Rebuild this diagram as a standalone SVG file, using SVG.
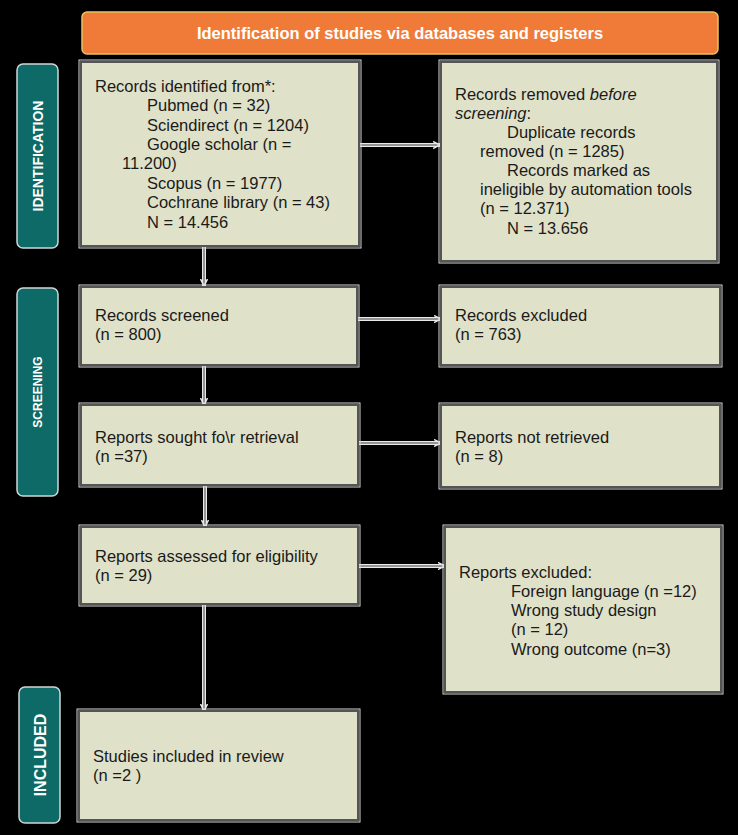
<svg xmlns="http://www.w3.org/2000/svg" width="738" height="835" viewBox="0 0 738 835">
<style>
.bg{fill:#000}
.box{fill:#e0e1c9;stroke:#555;stroke-width:2}
.box-o{fill:none;stroke:#d8d8d8;stroke-width:1}
.side{fill:#0e6a66;stroke:#d0d6d6;stroke-width:1.5}
.side-t{font-family:"Liberation Sans",Arial,sans-serif;font-weight:bold;fill:#fff;text-anchor:middle}
.t{font-family:"Liberation Sans",Arial,sans-serif;font-size:16.5px;fill:#1a1a1a}
.hdr{fill:#f07b38;stroke:#e8c25c;stroke-width:1.5}
.hdr-t{font-family:"Liberation Sans",Arial,sans-serif;font-weight:bold;font-size:16.5px;fill:#fff;text-anchor:middle}
.cw{stroke:#e8e8e8;stroke-width:4;fill:none}
.cg{stroke:#777;stroke-width:1.5;fill:none}
</style>
<defs>
<marker id="ah" markerWidth="8" markerHeight="8" refX="7" refY="4" orient="auto" markerUnits="userSpaceOnUse">
<path d="M0,0.5 L7,4 L0,7.5" fill="none" stroke="#e8e8e8" stroke-width="1.5"/>
</marker>
</defs>
<rect class="bg" x="0" y="0" width="738" height="835"/>

<g id="header">
<rect class="hdr" x="82" y="12" width="636" height="42" rx="5"/>
<text class="hdr-t" x="400" y="39">Identification of studies via databases and registers</text>
</g>

<g id="label-identification">
<rect class="side" x="17" y="64" width="41" height="184" rx="6"/>
<text class="side-t" font-size="14" transform="translate(43,156) rotate(-90)">IDENTIFICATION</text>
</g>
<g id="label-screening">
<rect class="side" x="17" y="288" width="41" height="208" rx="6"/>
<text class="side-t" font-size="12" transform="translate(42,392) rotate(-90)">SCREENING</text>
</g>
<g id="label-included">
<rect class="side" x="19" y="687" width="41" height="136" rx="6"/>
<text class="side-t" font-size="16" transform="translate(45.5,755) rotate(-90)">INCLUDED</text>
</g>

<g id="connectors">
<line class="cw" x1="360" y1="145" x2="440" y2="145"/>
<line class="cg" x1="360" y1="145" x2="440" y2="145" marker-end="url(#ah)"/>
<line class="cw" x1="358" y1="319" x2="441" y2="319"/>
<line class="cg" x1="358" y1="319" x2="441" y2="319" marker-end="url(#ah)"/>
<line class="cw" x1="358" y1="443" x2="441" y2="443"/>
<line class="cg" x1="358" y1="443" x2="441" y2="443" marker-end="url(#ah)"/>
<line class="cw" x1="358" y1="566" x2="445" y2="566"/>
<line class="cg" x1="358" y1="566" x2="445" y2="566" marker-end="url(#ah)"/>
<line class="cw" x1="204" y1="247" x2="204" y2="286"/>
<line class="cg" x1="204" y1="247" x2="204" y2="286" marker-end="url(#ah)"/>
<line class="cw" x1="204" y1="366" x2="204" y2="405"/>
<line class="cg" x1="204" y1="366" x2="204" y2="405" marker-end="url(#ah)"/>
<line class="cw" x1="205" y1="486" x2="205" y2="527"/>
<line class="cg" x1="205" y1="486" x2="205" y2="527" marker-end="url(#ah)"/>
<line class="cw" x1="204" y1="605" x2="204" y2="711"/>
<line class="cg" x1="204" y1="605" x2="204" y2="711" marker-end="url(#ah)"/>
</g>

<g id="records-identified">
<rect class="box-o" x="79" y="60" width="282" height="188"/>
<rect class="box" x="81" y="62" width="278" height="184"/>
<text class="t" x="95" y="92">Records identified from*:</text>
<text class="t" x="147" y="111">Pubmed  (n = 32)</text>
<text class="t" x="147" y="131">Sciendirect (n = 1204)</text>
<text class="t" x="147" y="150">Google scholar (n =</text>
<text class="t" x="122" y="169">11.200)</text>
<text class="t" x="147" y="189">Scopus (n = 1977)</text>
<text class="t" x="147" y="208">Cochrane library (n = 43)</text>
<text class="t" x="147" y="228">N = 14.456</text>
</g>

<g id="records-removed">
<rect class="box-o" x="439" y="60" width="280" height="203"/>
<rect class="box" x="441" y="62" width="276" height="199"/>
<text class="t" x="455" y="100">Records removed <tspan font-style="italic">before</tspan></text>
<text class="t" x="455" y="119"><tspan font-style="italic">screening</tspan>:</text>
<text class="t" x="507" y="138">Duplicate records</text>
<text class="t" x="480" y="157">removed  (n = 1285)</text>
<text class="t" x="507" y="176">Records marked as</text>
<text class="t" x="480" y="195">ineligible by automation tools</text>
<text class="t" x="480" y="214">(n = 12.371)</text>
<text class="t" x="507" y="234">N = 13.656</text>
</g>

<g id="records-screened">
<rect class="box-o" x="79" y="285" width="280" height="82"/>
<rect class="box" x="81" y="287" width="276" height="78"/>
<text class="t" x="95" y="321">Records screened</text>
<text class="t" x="95" y="340">(n = 800)</text>
</g>

<g id="records-excluded">
<rect class="box-o" x="439" y="285" width="283" height="82"/>
<rect class="box" x="441" y="287" width="279" height="78"/>
<text class="t" x="455" y="321">Records excluded</text>
<text class="t" x="455" y="340">(n = 763)</text>
</g>

<g id="reports-sought">
<rect class="box-o" x="79" y="403" width="281" height="84"/>
<rect class="box" x="81" y="405" width="277" height="80"/>
<text class="t" x="95" y="443">Reports sought fo\r retrieval</text>
<text class="t" x="95" y="462">(n =37)</text>
</g>

<g id="reports-not-retrieved">
<rect class="box-o" x="439" y="403" width="283" height="86"/>
<rect class="box" x="441" y="405" width="279" height="82"/>
<text class="t" x="455" y="443">Reports not retrieved</text>
<text class="t" x="455" y="462">(n = 8)</text>
</g>

<g id="reports-assessed">
<rect class="box-o" x="79" y="525" width="281" height="81"/>
<rect class="box" x="81" y="527" width="277" height="77"/>
<text class="t" x="95" y="562">Reports assessed for eligibility</text>
<text class="t" x="95" y="581">(n = 29)</text>
</g>

<g id="reports-excluded">
<rect class="box-o" x="443" y="525" width="280" height="169"/>
<rect class="box" x="445" y="527" width="276" height="165"/>
<text class="t" x="459" y="578">Reports excluded:</text>
<text class="t" x="511" y="597">Foreign language (n =12)</text>
<text class="t" x="511" y="616">Wrong study design</text>
<text class="t" x="511" y="635">(n = 12)</text>
<text class="t" x="511" y="655">Wrong outcome (n=3)</text>
</g>

<g id="studies-included">
<rect class="box-o" x="77" y="709" width="283" height="113"/>
<rect class="box" x="79" y="711" width="279" height="109"/>
<text class="t" x="93" y="762">Studies included in review</text>
<text class="t" x="93" y="781">(n =2 )</text>
</g>
</svg>
